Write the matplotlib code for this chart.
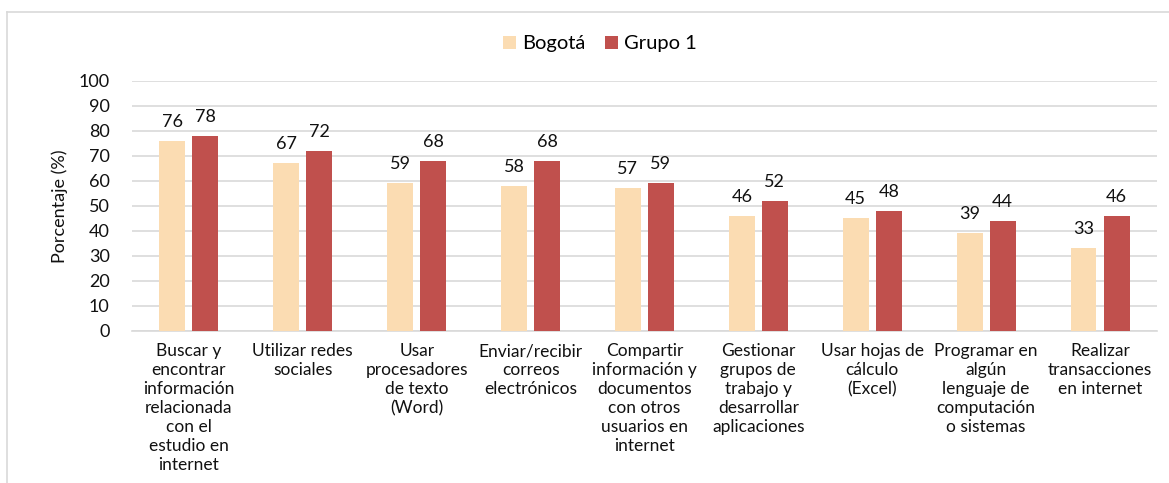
import matplotlib.pyplot as plt
import numpy as np
from matplotlib.lines import Line2D

plt.rcParams['font.family'] = ['Lato', 'DejaVu Sans']

# Datos
categorias = [
    "Buscar y\nencontrar\ninformación\nrelacionada\ncon el\nestudio en\ninternet",
    "Utilizar redes\nsociales",
    "Usar\nprocesadores\nde texto\n(Word)",
    "Enviar/recibir\ncorreos\nelectrónicos",
    "Compartir\ninformación y\ndocumentos\ncon otros\nusuarios en\ninternet",
    "Gestionar\ngrupos de\ntrabajo y\ndesarrollar\naplicaciones",
    "Usar hojas de\ncálculo\n(Excel)",
    "Programar en\nalgún\nlenguaje de\ncomputación\no sistemas",
    "Realizar\ntransacciones\nen internet",
]
bogota = [76, 67, 59, 58, 57, 46, 45, 39, 33]
grupo1 = [78, 72, 68, 68, 59, 52, 48, 44, 46]
series = ["Bogotá", "Grupo 1"]
yticks = list(range(0, 101, 10))

col_bog = '#FBDCB2'
col_g1 = '#C0504D'
fs = 12.5

fig = plt.figure(figsize=(11.69, 4.83), dpi=100)
ax = fig.add_axes([0.1129, 0.3147, 0.8768, 0.5176])

x = np.arange(len(categorias))
w = 0.228
off = 0.145
b1 = ax.bar(x - off, bogota, w, color=col_bog, label=series[0], zorder=3)
b2 = ax.bar(x + off, grupo1, w, color=col_g1, label=series[1], zorder=3)

# Etiquetas de valores
for rects, vals in ((b1, bogota), (b2, grupo1)):
    for r, v in zip(rects, vals):
        ax.annotate(str(v), (r.get_x() + r.get_width() / 2, v),
                    xytext=(0, 8), textcoords='offset points',
                    ha='center', va='bottom', fontsize=fs + 0.5, color='#111111')

ax.set_xlim(-0.5, len(categorias) - 0.5)
ax.set_ylim(0, 100)
ax.set_yticks(yticks)
ax.yaxis.grid(True, color='#D9D9D9', linewidth=1.2, zorder=0)
ax.set_axisbelow(True)
for s in ['top', 'right', 'left']:
    ax.spines[s].set_visible(False)
ax.spines['bottom'].set_color('#D9D9D9')
ax.spines['bottom'].set_linewidth(1.2)
ax.tick_params(axis='both', length=0, labelsize=fs, colors='#111111')
ax.tick_params(axis='y', pad=16, labelsize=fs + 0.5)
ax.tick_params(axis='x', pad=9)
ax.set_xticks(x)
ax.set_xticklabels(categorias, linespacing=1.23)
ax.set_ylabel('Porcentaje (%)', fontsize=fs + 0.5, color='#111111', labelpad=8)

ax.legend(loc='upper center', bbox_to_anchor=(0.4566, 1.255), ncol=2, frameon=False,
          fontsize=14.5, handlelength=0.65, handleheight=0.65, handletextpad=0.3,
          columnspacing=1.0)

# Marco del gráfico
fig.add_artist(Line2D([7 / 1169, 7 / 1169], [0, 1 - 12 / 483], transform=fig.transFigure,
                      color='#D9D9D9', linewidth=1.2))
fig.add_artist(Line2D([7 / 1169, 1], [1 - 12 / 483, 1 - 12 / 483], transform=fig.transFigure,
                      color='#D9D9D9', linewidth=1.2))

fig.savefig('out.png', dpi=100)
